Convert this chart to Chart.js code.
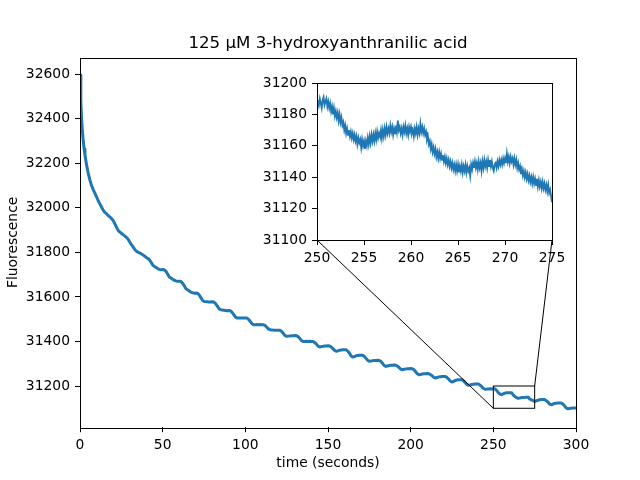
<!DOCTYPE html>
<html lang="en">
<head>
<meta charset="UTF-8">
<title>125 µM 3-hydroxyanthranilic acid</title>
<script src="https://cdn.jsdelivr.net/npm/chart.js"></script>
<style>
  body { margin: 0; background: #fff; }
  #wrap { position: relative; width: 640px; height: 480px; }
  #mainChart { position: absolute; left: 0; top: 0; }
  #insetChart { position: absolute; left: 240px; top: 60px; }
</style>
</head>
<body>
<div id="wrap">
  <canvas id="mainChart" width="640" height="480"></canvas>
  <canvas id="insetChart" width="360" height="210"></canvas>
</div>
<script>
// full trace (seconds / fluorescence)
const mainTimes = [
  0, 0.5, 1, 1.5, 2, 2.5, 3, 4, 5, 6, 7, 8, 9, 10,
  11, 12, 13, 14, 15, 16, 17, 18, 19, 20,
  21, 22, 23, 24, 25, 26, 27, 28, 29, 30,
  31, 32, 33, 34, 35, 36, 37, 38, 39, 40,
  41, 42, 43, 44, 45, 46, 47, 48, 49, 50,
  51, 52, 53, 54, 55, 56, 57, 58, 59, 60,
  61, 62, 63, 64, 65, 66, 67, 68, 69, 70,
  71, 72, 73, 74, 75, 76, 77, 78, 79, 80,
  81, 82, 83, 84, 85, 86, 87, 88, 89, 90,
  91, 92, 93, 94, 95, 96, 97, 98, 99, 100,
  101, 102, 103, 104, 105, 106, 107, 108, 109, 110,
  111, 112, 113, 114, 115, 116, 117, 118, 119, 120,
  121, 122, 123, 124, 125, 126, 127, 128, 129, 130,
  131, 132, 133, 134, 135, 136, 137, 138, 139, 140,
  141, 142, 143, 144, 145, 146, 147, 148, 149, 150,
  151, 152, 153, 154, 155, 156, 157, 158, 159, 160,
  161, 162, 163, 164, 165, 166, 167, 168, 169, 170,
  171, 172, 173, 174, 175, 176, 177, 178, 179, 180,
  181, 182, 183, 184, 185, 186, 187, 188, 189, 190,
  191, 192, 193, 194, 195, 196, 197, 198, 199, 200,
  201, 202, 203, 204, 205, 206, 207, 208, 209, 210,
  211, 212, 213, 214, 215, 216, 217, 218, 219, 220,
  221, 222, 223, 224, 225, 226, 227, 228, 229, 230,
  231, 232, 233, 234, 235, 236, 237, 238, 239, 240,
  241, 242, 243, 244, 245, 246, 247, 248, 249, 250,
  251, 252, 253, 254, 255, 256, 257, 258, 259, 260,
  261, 262, 263, 264, 265, 266, 267, 268, 269, 270,
  271, 272, 273, 274, 275, 276, 277, 278, 279, 280,
  281, 282, 283, 284, 285, 286, 287, 288, 289, 290,
  291, 292, 293, 294, 295, 296, 297, 298, 299, 300
];
const mainValues = [
  32597, 32480, 32395, 32340, 32298, 32265, 32238, 32192, 32155, 32125, 32100, 32082, 32066, 32050,
  32032, 32018, 32004, 31990, 31980, 31974, 31966, 31960, 31952, 31944,
  31930, 31915, 31900, 31892, 31886, 31880, 31874, 31868, 31860, 31848,
  31836, 31826, 31815, 31806, 31801, 31798, 31794, 31789, 31784, 31778,
  31773, 31767, 31756, 31743, 31737, 31733, 31727, 31724, 31722, 31723,
  31722, 31715, 31703, 31690, 31685, 31680, 31675, 31672, 31670, 31671,
  31670, 31662, 31651, 31638, 31632, 31628, 31622, 31619, 31617, 31618,
  31617, 31610, 31598, 31586, 31580, 31579, 31578, 31577, 31577, 31578,
  31577, 31570, 31560, 31548, 31543, 31541, 31540, 31539, 31538, 31539,
  31538, 31531, 31521, 31510, 31505, 31505, 31506, 31505, 31506, 31505,
  31505, 31499, 31490, 31480, 31475, 31475, 31476, 31475, 31476, 31475,
  31475, 31471, 31464, 31456, 31453, 31452, 31451, 31450, 31451, 31450,
  31450, 31445, 31436, 31427, 31423, 31424, 31425, 31426, 31426, 31427,
  31426, 31421, 31413, 31404, 31400, 31400, 31401, 31400, 31401, 31400,
  31400, 31395, 31388, 31379, 31375, 31377, 31378, 31380, 31380, 31381,
  31380, 31375, 31368, 31360, 31356, 31358, 31361, 31362, 31363, 31363,
  31363, 31356, 31347, 31335, 31330, 31332, 31336, 31337, 31338, 31338,
  31338, 31333, 31324, 31315, 31311, 31312, 31314, 31315, 31315, 31316,
  31315, 31310, 31302, 31292, 31288, 31290, 31292, 31293, 31293, 31294,
  31293, 31289, 31283, 31276, 31273, 31275, 31276, 31278, 31278, 31279,
  31278, 31273, 31264, 31255, 31251, 31252, 31254, 31255, 31255, 31256,
  31255, 31251, 31246, 31239, 31236, 31238, 31241, 31242, 31243, 31243,
  31243, 31238, 31231, 31222, 31218, 31221, 31225, 31227, 31228, 31228,
  31228, 31223, 31215, 31207, 31203, 31205, 31207, 31208, 31209, 31209,
  31209, 31204, 31197, 31189, 31186, 31186, 31187, 31188, 31187, 31188,
  31188, 31180, 31170, 31164, 31161, 31165, 31168, 31170, 31170, 31170,
  31170, 31160, 31153, 31148, 31145, 31146, 31148, 31148, 31149, 31150,
  31150, 31142, 31138, 31135, 31130, 31133, 31136, 31138, 31139, 31139,
  31139, 31134, 31128, 31119, 31116, 31118, 31122, 31123, 31124, 31124,
  31124, 31119, 31111, 31102, 31098, 31099, 31100, 31101, 31101, 31101
];

// zoomed window 250-275 s, denser reading of the noisy trace
const insetTimes = [
  250.0, 250.1, 250.2, 250.3, 250.4, 250.5, 250.6, 250.7, 250.8, 250.9,
  251.0, 251.1, 251.2, 251.3, 251.4, 251.5, 251.6, 251.7, 251.8, 251.9,
  252.0, 252.1, 252.2, 252.3, 252.4, 252.5, 252.6, 252.7, 252.8, 252.9,
  253.0, 253.1, 253.2, 253.3, 253.4, 253.5, 253.6, 253.7, 253.8, 253.9,
  254.0, 254.1, 254.2, 254.3, 254.4, 254.5, 254.6, 254.7, 254.8, 254.9,
  255.0, 255.1, 255.2, 255.3, 255.4, 255.5, 255.6, 255.7, 255.8, 255.9,
  256.0, 256.1, 256.2, 256.3, 256.4, 256.5, 256.6, 256.7, 256.8, 256.9,
  257.0, 257.1, 257.2, 257.3, 257.4, 257.5, 257.6, 257.7, 257.8, 257.9,
  258.0, 258.1, 258.2, 258.3, 258.4, 258.5, 258.6, 258.7, 258.8, 258.9,
  259.0, 259.1, 259.2, 259.3, 259.4, 259.5, 259.6, 259.7, 259.8, 259.9,
  260.0, 260.1, 260.2, 260.3, 260.4, 260.5, 260.6, 260.7, 260.8, 260.9,
  261.0, 261.1, 261.2, 261.3, 261.4, 261.5, 261.6, 261.7, 261.8, 261.9,
  262.0, 262.1, 262.2, 262.3, 262.4, 262.5, 262.6, 262.7, 262.8, 262.9,
  263.0, 263.1, 263.2, 263.3, 263.4, 263.5, 263.6, 263.7, 263.8, 263.9,
  264.0, 264.1, 264.2, 264.3, 264.4, 264.5, 264.6, 264.7, 264.8, 264.9,
  265.0, 265.1, 265.2, 265.3, 265.4, 265.5, 265.6, 265.7, 265.8, 265.9,
  266.0, 266.1, 266.2, 266.3, 266.4, 266.5, 266.6, 266.7, 266.8, 266.9,
  267.0, 267.1, 267.2, 267.3, 267.4, 267.5, 267.6, 267.7, 267.8, 267.9,
  268.0, 268.1, 268.2, 268.3, 268.4, 268.5, 268.6, 268.7, 268.8, 268.9,
  269.0, 269.1, 269.2, 269.3, 269.4, 269.5, 269.6, 269.7, 269.8, 269.9,
  270.0, 270.1, 270.2, 270.3, 270.4, 270.5, 270.6, 270.7, 270.8, 270.9,
  271.0, 271.1, 271.2, 271.3, 271.4, 271.5, 271.6, 271.7, 271.8, 271.9,
  272.0, 272.1, 272.2, 272.3, 272.4, 272.5, 272.6, 272.7, 272.8, 272.9,
  273.0, 273.1, 273.2, 273.3, 273.4, 273.5, 273.6, 273.7, 273.8, 273.9,
  274.0, 274.1, 274.2, 274.3, 274.4, 274.5, 274.6, 274.7, 274.8, 274.9,
  275.0
];
const insetValues = [
  31185, 31189, 31186, 31190, 31187, 31184, 31189, 31191, 31186, 31188,
  31190, 31185, 31188, 31184, 31187, 31182, 31185, 31180, 31184, 31179,
  31182, 31178, 31181, 31176, 31180, 31175, 31178, 31173, 31175, 31170,
  31173, 31168, 31171, 31167, 31170, 31166, 31169, 31165, 31168, 31164,
  31167, 31163, 31166, 31161, 31165, 31162, 31164, 31159, 31164, 31160,
  31163, 31158, 31163, 31160, 31165, 31161, 31166, 31162, 31167, 31163,
  31167, 31163, 31168, 31164, 31169, 31165, 31168, 31166, 31170, 31165,
  31170, 31166, 31171, 31167, 31172, 31168, 31171, 31168, 31173, 31169,
  31172, 31167, 31171, 31168, 31173, 31169, 31176, 31170, 31172, 31168,
  31171, 31167, 31172, 31169, 31173, 31168, 31171, 31167, 31172, 31169,
  31172, 31168, 31170, 31166, 31171, 31168, 31172, 31167, 31171, 31168,
  31174, 31169, 31172, 31168, 31171, 31167, 31169, 31164, 31166, 31161,
  31163, 31158, 31161, 31156, 31159, 31155, 31158, 31153, 31156, 31152,
  31156, 31152, 31155, 31151, 31154, 31150, 31153, 31149, 31152, 31148,
  31151, 31147, 31150, 31146, 31149, 31145, 31148, 31144, 31148, 31144,
  31148, 31143, 31147, 31144, 31148, 31143, 31147, 31144, 31148, 31143,
  31147, 31144, 31146, 31141, 31148, 31145, 31149, 31146, 31150, 31146,
  31149, 31145, 31150, 31146, 31149, 31144, 31150, 31146, 31151, 31147,
  31150, 31146, 31151, 31147, 31151, 31147, 31150, 31146, 31144, 31148,
  31149, 31146, 31150, 31147, 31151, 31148, 31151, 31148, 31152, 31149,
  31152, 31149, 31155, 31150, 31153, 31149, 31153, 31150, 31152, 31148,
  31152, 31148, 31151, 31146, 31149, 31145, 31147, 31142, 31145, 31141,
  31144, 31140, 31143, 31139, 31142, 31138, 31141, 31137, 31140, 31136,
  31140, 31136, 31139, 31135, 31139, 31134, 31138, 31134, 31137, 31133,
  31137, 31133, 31136, 31132, 31135, 31131, 31135, 31130, 31132, 31128,
  31124
];

const mainXTicks = [0, 50, 100, 150, 200, 250, 300];
const mainYTicks = [31200, 31400, 31600, 31800, 32000, 32200, 32400, 32600];
const mainXRange = [0, 300];
const mainYRange = [31015, 32675];

const insetXTicks = [250, 255, 260, 265, 270, 275];
const insetYTicks = [31100, 31120, 31140, 31160, 31180, 31200];
const insetXRange = [250, 275];
const insetYRange = [31100, 31200];

const lineColor = '#1f77b4';

Chart.defaults.font.family = "'DejaVu Sans', sans-serif";
Chart.defaults.font.size = 13.89;
Chart.defaults.color = '#000';
Chart.defaults.animation = false;

function toPoints(xs, ys) {
  return xs.map((x, i) => ({ x: x, y: ys[i] }));
}

// matplotlib-ish axis: ticks outside, no grid, fixed tick list
function axis(range, tickList, extra) {
  return Object.assign({
    type: 'linear',
    min: range[0],
    max: range[1],
    grid: { drawOnChartArea: false, drawTicks: true, tickLength: 5, color: '#000', lineWidth: 1 },
    border: { display: false },
    ticks: { autoSkip: false, maxRotation: 0, padding: 5, callback: v => String(v) },
    afterBuildTicks: s => { s.ticks = tickList.map(v => ({ value: v })); }
  }, extra);
}

// white axes face + black frame
const frame = {
  id: 'frame',
  beforeDraw(chart, args, opts) {
    const ctx = chart.ctx, a = chart.chartArea;
    ctx.save();
    ctx.fillStyle = '#fff';
    if (opts.full) ctx.fillRect(0, 0, chart.width, chart.height);
    else ctx.fillRect(a.left, a.top, a.right - a.left, a.bottom - a.top);
    ctx.restore();
  },
  afterDraw(chart) {
    const ctx = chart.ctx, a = chart.chartArea;
    ctx.save();
    ctx.strokeStyle = '#000';
    ctx.lineWidth = 1;
    ctx.strokeRect(Math.round(a.left) + 0.5, Math.round(a.top) + 0.5,
      Math.round(a.right - a.left), Math.round(a.bottom - a.top));
    ctx.restore();
  }
};

const insetCanvas = document.getElementById('insetChart');
const insetChart = new Chart(insetCanvas, {
  type: 'line',
  data: {
    datasets: [{
      data: toPoints(insetTimes, insetValues),
      borderColor: lineColor,
      borderWidth: 1.8,
      pointRadius: 0,
      tension: 0
    }]
  },
  options: {
    responsive: false,
    devicePixelRatio: 1,
    parsing: false,
    layout: { padding: { left: 0, right: 48, top: 23, bottom: 0 } },
    plugins: { legend: { display: false }, tooltip: { enabled: false }, frame: { full: false } },
    scales: {
      x: axis(insetXRange, insetXTicks, { afterFit: s => { s.height = 30; } }),
      y: axis(insetYRange, insetYTicks, { afterFit: s => { s.width = 77; } })
    }
  },
  plugins: [frame]
});

// rectangle on the zoomed region and the two connector lines to the inset
const zoomLines = {
  id: 'zoomLines',
  afterDatasetsDraw(chart) {
    const ctx = chart.ctx, xs = chart.scales.x, ys = chart.scales.y;
    const l = xs.getPixelForValue(insetXRange[0]), r = xs.getPixelForValue(insetXRange[1]);
    const t = ys.getPixelForValue(insetYRange[1]), b = ys.getPixelForValue(insetYRange[0]);
    const ia = insetChart.chartArea;
    const ox = insetCanvas.offsetLeft, oy = insetCanvas.offsetTop;
    ctx.save();
    ctx.strokeStyle = '#000';
    ctx.lineWidth = 1;
    ctx.strokeRect(l, t, r - l, b - t);
    ctx.beginPath();
    ctx.moveTo(l, b);
    ctx.lineTo(ox + ia.left, oy + ia.bottom);
    ctx.moveTo(r, t);
    ctx.lineTo(ox + ia.right, oy + ia.bottom);
    ctx.stroke();
    ctx.restore();
  }
};

new Chart(document.getElementById('mainChart'), {
  type: 'line',
  data: {
    datasets: [{
      data: toPoints(mainTimes, mainValues),
      borderColor: lineColor,
      borderWidth: 3,
      borderJoinStyle: 'round',
      pointRadius: 0,
      tension: 0
    }]
  },
  options: {
    responsive: false,
    devicePixelRatio: 1,
    parsing: false,
    layout: { padding: { left: 0, right: 64, top: 0, bottom: 0 } },
    plugins: {
      legend: { display: false },
      tooltip: { enabled: false },
      frame: { full: true },
      title: {
        display: true,
        fullSize: false,
        text: '125 µM 3-hydroxyanthranilic acid',
        color: '#000',
        font: { size: 16.67, weight: 'normal' },
        padding: { top: 33.5, bottom: 4.1 }
      }
    },
    scales: {
      x: axis(mainXRange, mainXTicks, {
        title: { display: true, text: 'time (seconds)', padding: { top: 0, bottom: 8 } },
        afterFit: s => { s.height = 52.8; }
      }),
      y: axis(mainYRange, mainYTicks, {
        title: { display: true, text: 'Fluorescence', padding: { top: 5, bottom: 0 } },
        afterFit: s => { s.width = 80; }
      })
    }
  },
  plugins: [frame, zoomLines]
});
</script>
</body>
</html>
